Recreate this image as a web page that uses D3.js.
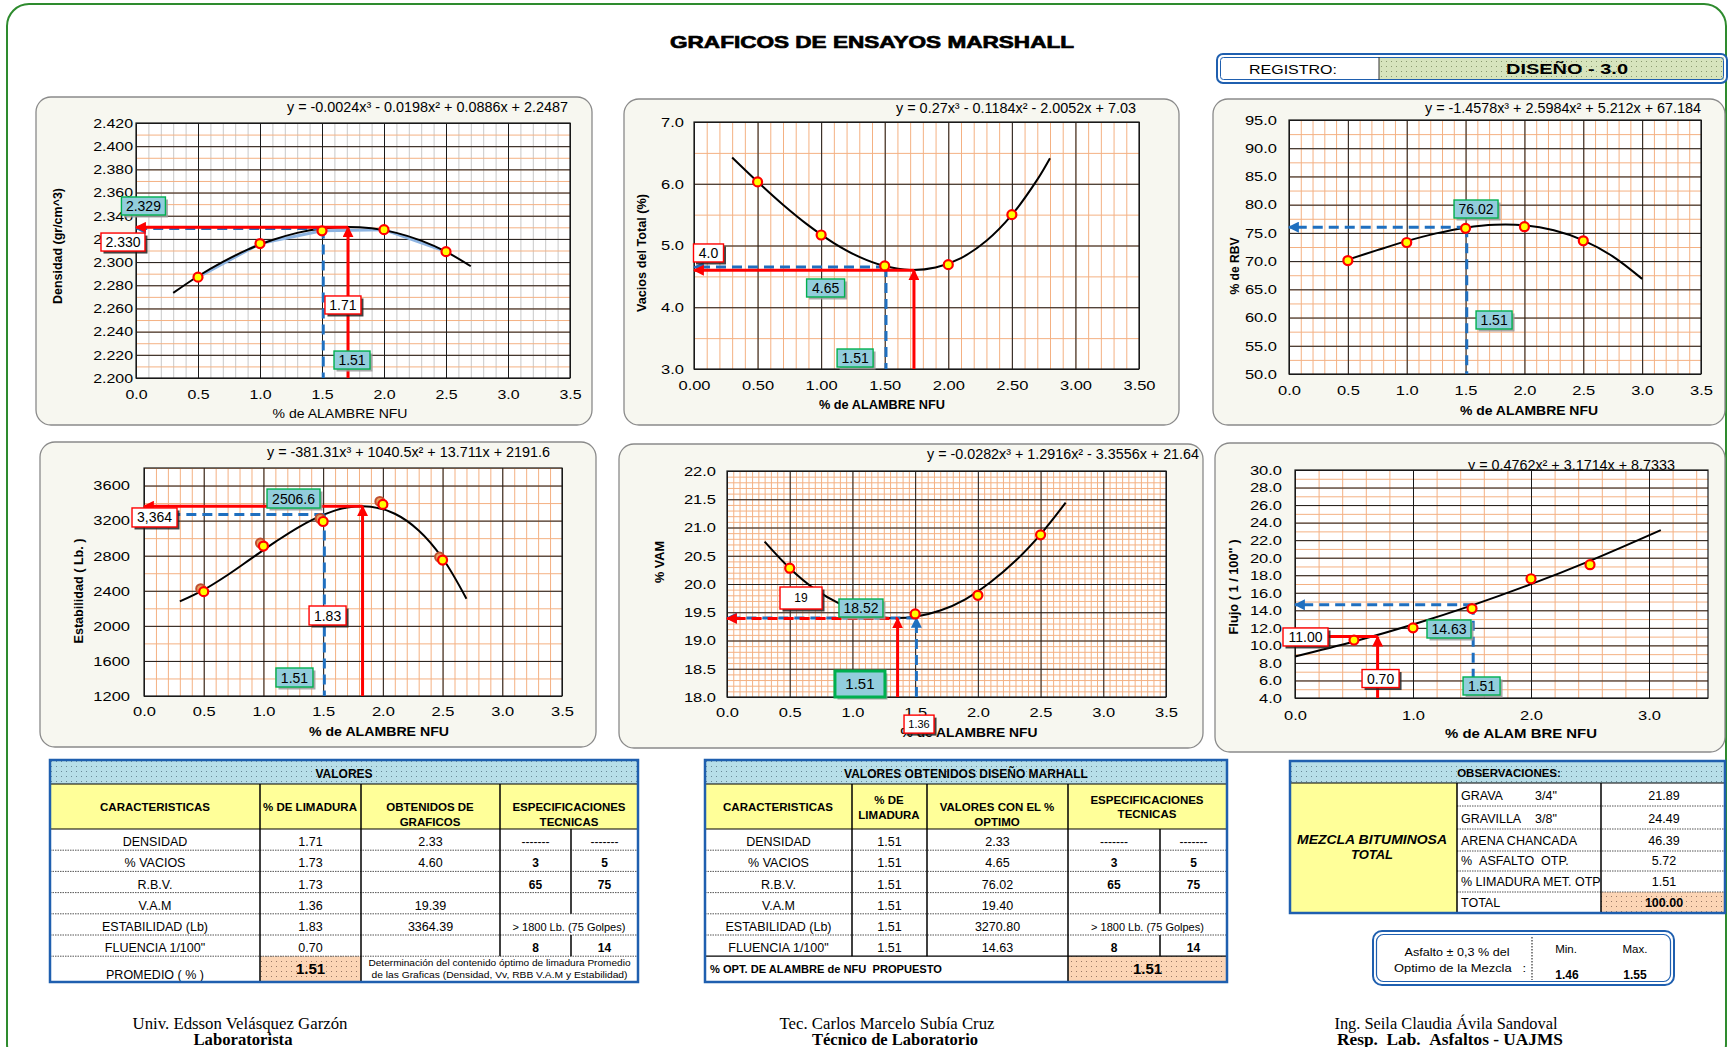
<!DOCTYPE html>
<html><head><meta charset="utf-8">
<script src="https://cdn.jsdelivr.net/npm/d3@7"></script>
<style>
body{margin:0;background:#fff}
svg{display:block}
</style>
</head><body>
<svg id="c" width="1732" height="1047" font-family='"Liberation Sans", Arial, sans-serif'></svg>
<script>
// ================= DATA =================
const xLevels = [0.5, 1.0, 1.5, 2.0, 2.5];
const xTicksHalf = [0, 0.5, 1.0, 1.5, 2.0, 2.5, 3.0, 3.5];
const xTicksFlujo = [0, 1, 2, 3];

// Densidad
const densidadPts = [2.287, 2.316, 2.327, 2.328, 2.309];
const densYTicks = [2.200,2.220,2.240,2.260,2.280,2.300,2.320,2.340,2.360,2.380,2.400,2.420];
const densCurveX = [0.3,0.5,0.7,0.9,1.1,1.3,1.5,1.7,1.9,2.1,2.3,2.5,2.7];
const densCurveY = [2.2734,2.2878,2.3002,2.3107,2.3190,2.3252,2.3290,2.3303,2.3291,2.3252,2.3185,2.3090,2.2964];
const densOptimo = [1.71, 2.330];
const densDiseno = [1.51, 2.329];
const densLabels = ["2.329", "2.330", "1.71", "1.51"];

// Vacios
const vaciosPts = [6.03, 5.17, 4.67, 4.69, 5.50];
const vaciosYTicks = [3.0, 4.0, 5.0, 6.0, 7.0];
const vaciosCurveX = [0.3,0.5,0.7,0.9,1.1,1.3,1.5,1.7,1.9,2.1,2.3,2.5,2.7,2.8];
const vaciosCurveY = [6.425,6.032,5.661,5.326,5.040,4.816,4.667,4.605,4.645,4.797,5.077,5.496,6.067,6.414];
const vaciosOptimo = [1.73, 4.60];
const vaciosDiseno = [1.51, 4.65];
const vaciosLabels = ["4.0", "4.65", "1.51"];

// RBV
const rbvPts = [70.1, 73.3, 75.8, 76.1, 73.6];
const rbvYTicks = [50,55,60,65,70,75,80,85,90,95];
const rbvCurveX = [0.5,0.75,1.0,1.25,1.5,1.75,2.0,2.25,2.5,2.75,3.0];
const rbvCurveY = [70.26,71.94,73.54,74.91,75.93,76.45,76.34,75.46,73.68,70.85,66.85];
const rbvDiseno = [1.51, 76.02];
const rbvLabels = ["76.02", "1.51"];

// Estabilidad
const estabPts = [2390, 2910, 3190, 3385, 2750];
const estabYTicks = [1200,1600,2000,2400,2800,3200,3600];
const estabCurveX = [0.3,0.5,0.7,0.9,1.1,1.3,1.5,1.7,1.9,2.1,2.3,2.5,2.7];
const estabCurveY = [2279,2411,2580,2769,2958,3130,3266,3349,3359,3278,3088,2771,2309];
const estabOptimo = [1.83, 3364];
const estabDiseno = [1.51, 3270];
const estabLabels = ["3,364", "2506.6", "1.83", "1.51"];

// VAM
const vamPts = [20.28, 19.58, 19.47, 19.80, 20.87];
const vamYTicks = [18.0,18.5,19.0,19.5,20.0,20.5,21.0,21.5,22.0];
const vamCurveX = [0.3,0.5,0.7,0.9,1.1,1.3,1.5,1.7,1.9,2.1,2.3,2.5,2.7];
const vamCurveY = [20.75,20.28,19.91,19.65,19.47,19.40,19.42,19.53,19.73,20.03,20.41,20.88,21.44];
const vamOptimo = [1.36, 19.39];
const vamDiseno = [1.51, 19.40];
const vamLabels = ["19", "18.52", "1.51", "1.36"];

// Flujo
const flujoPts = [10.6, 12.0, 14.2, 17.6, 19.2];
const flujoYTicks = [4,6,8,10,12,14,16,18,20,22,24,26,28,30];
const flujoCurveX = [0, 0.5, 1.0, 1.5, 2.0, 2.5, 3.1];
const flujoCurveY = [8.73, 10.44, 12.38, 14.56, 16.98, 19.64, 23.14];
const flujoOptimo = [0.70, 11.0];
const flujoDiseno = [1.51, 14.63];
const flujoLabels = ["11.00", "0.70", "14.63", "1.51"];

// Tables
const caracteristicas = ["DENSIDAD", "% VACIOS", "R.B.V.", "V.A.M", "ESTABILIDAD (Lb)", "FLUENCIA 1/100\""];
const t1Limadura = ["1.71", "1.73", "1.73", "1.36", "1.83", "0.70"];
const t1Graficos = ["2.33", "4.60", "", "19.39", "3364.39", ""];
const specMin = ["-------", "3", "65", "", "> 1800 Lb. (75 Golpes)", "8"];
const specMax = ["-------", "5", "75", "", "", "14"];
const t2Limadura = ["1.51", "1.51", "1.51", "1.51", "1.51", "1.51"];
const t2Optimo = ["2.33", "4.65", "76.02", "19.40", "3270.80", "14.63"];
const promedio = "1.51";
const optPropuesto = "1.51";
const obsLabels = ["GRAVA", "GRAVILLA", "ARENA CHANCADA", "%\u00A0\u00A0ASFALTO\u00A0\u00A0OTP.", "% LIMADURA MET. OTP", "TOTAL"];
const obsSizes = ["3/4\"", "3/8\"", "", "", "", ""];
const obsValues = ["21.89", "24.49", "46.39", "5.72", "1.51", "100.00"];
const asfaltoRango = ["1.46", "1.55"];
const firmasNombre = ["Univ. Edsson Velásquez Garzón", "Tec. Carlos Marcelo Subía Cruz", "Ing. Seila Claudia Ávila Sandoval"];
const firmasCargo = ["Laboratorista", "Técnico de Laboratorio", "Resp.\u00A0\u00A0Lab.\u00A0\u00A0Asfaltos - UAJMS"];

// ================= DRAWING =================
const svg = d3.select('#c');
svg.append('rect').attr('width',1732).attr('height',1047).attr('fill','#fff');
const defs = svg.append('defs');
function dotPattern(id, bg, dot) {
  const p = defs.append('pattern').attr('id', id).attr('width', 5).attr('height', 5).attr('patternUnits', 'userSpaceOnUse');
  p.append('rect').attr('width', 5).attr('height', 5).attr('fill', bg);
  p.append('rect').attr('x', 1).attr('y', 1).attr('width', 1).attr('height', 1).attr('fill', dot);
}
dotPattern('dBlue', '#B7DEE8', '#6a8a98');
dotPattern('dPeach', '#FCD5B5', '#9a7a66');
dotPattern('dGreen', '#D7E4BD', '#8a9a70');
function marker(id, color) {
  defs.append('marker').attr('id', id).attr('viewBox', '0 0 10 10').attr('refX', 9).attr('refY', 5)
    .attr('markerWidth', 11).attr('markerHeight', 11).attr('markerUnits', 'userSpaceOnUse').attr('orient', 'auto')
    .append('path').attr('d', 'M0,0 L10,5 L0,10 z').attr('fill', color);
}
marker('arRed', '#FF0000');
marker('arBlue', '#1F6FBF');

function txt(g, x, y, s, o = {}) {
  const t = g.append('text').attr('x', x).attr('y', y).text(s)
    .attr('font-size', o.fs || 12).attr('text-anchor', o.anchor || 'middle')
    .attr('font-weight', o.bold ? 'bold' : 'normal').attr('fill', o.fill || '#000');
  if (o.italic) t.attr('font-style', 'italic');
  if (o.family) t.attr('font-family', o.family);
  if (o.len) t.attr('textLength', o.len).attr('lengthAdjust', 'spacingAndGlyphs');
  if (o.rotate) t.attr('transform', `rotate(-90 ${x} ${y})`);
  return t;
}
function stretch(sel, k) {
  sel.each(function () {
    const L = this.getComputedTextLength();
    if (L > 0) { this.setAttribute('textLength', L * k); this.setAttribute('lengthAdjust', 'spacingAndGlyphs'); }
  });
}

// outer frame
svg.append('rect').attr('x', 7).attr('y', 4).attr('width', 1719).attr('height', 1062).attr('rx', 22)
  .attr('fill', 'none').attr('stroke', '#2E8B2E').attr('stroke-width', 2);

// title
txt(svg, 872, 48, "GRAFICOS DE ENSAYOS MARSHALL", { fs: 17, bold: true, len: 404 })
  .attr('stroke', '#000').attr('stroke-width', 0.7);

// registro box
svg.append('rect').attr('x', 1217).attr('y', 54).attr('width', 510).attr('height', 29).attr('rx', 6)
  .attr('fill', '#fff').attr('stroke', '#1F5FAF').attr('stroke-width', 2);
svg.append('rect').attr('x', 1379).attr('y', 57).attr('width', 345).attr('height', 23).attr('fill', 'url(#dGreen)');
svg.append('rect').attr('x', 1220.5).attr('y', 57.5).attr('width', 503).attr('height', 22).attr('rx', 3)
  .attr('fill', 'none').attr('stroke', '#1F5FAF').attr('stroke-width', 1);
svg.append('line').attr('x1', 1379).attr('x2', 1379).attr('y1', 57).attr('y2', 80).attr('stroke', '#333');
txt(svg, 1293, 74, "REGISTRO:", { fs: 13, len: 88 });
txt(svg, 1567, 74, "DISEÑO - 3.0", { fs: 15, bold: true, len: 122 });

function drawChart(c) {
  const g = svg.append('g');
  const [px0, px1, py0, py1] = c.plot;
  const W = px1 - px0, H = py1 - py0;
  g.append('rect').attr('x', c.card[0]).attr('y', c.card[1]).attr('width', c.card[2]).attr('height', c.card[3])
    .attr('rx', 15).attr('fill', '#F7F7F0').attr('stroke', '#8a8a8a').attr('stroke-width', 1.3);
  const x = d3.scaleLinear().domain(c.xDomain).range([px0, px1]);
  const y = d3.scaleLinear().domain(c.yDomain).range([py1, py0]);
  txt(g, c.eq[0], c.eq[1], c.eqText, { fs: 14, anchor: 'end', len: c.eq[2] });
  g.append('rect').attr('x', px0).attr('y', py0).attr('width', W).attr('height', H).attr('fill', '#fff');

  const xMinor = d3.range(c.xDomain[0], c.xDomain[1] + 1e-9, c.xMinor);
  const yMinor = d3.range(c.yDomain[0], c.yDomain[1] + 1e-9, c.yMinor);
  const gridStyle = (col, w) => s => { s.select('.domain').remove(); s.selectAll('line').attr('stroke', col).attr('stroke-width', w); };
  g.append('g').attr('transform', `translate(0,${py1})`)
    .call(d3.axisBottom(x).tickValues(xMinor).tickSize(-H).tickFormat(''))
    .call(gridStyle(c.xMinorColor || '#F4B183', 1));
  g.append('g').attr('transform', `translate(${px0},0)`)
    .call(d3.axisLeft(y).tickValues(yMinor).tickSize(-W).tickFormat(''))
    .call(gridStyle('#F4B183', 1));
  g.append('g').attr('transform', `translate(0,${py1})`)
    .call(d3.axisBottom(x).tickValues(c.xTicks).tickSize(-H).tickFormat(''))
    .call(gridStyle('#1a1a1a', 1));
  g.append('g').attr('transform', `translate(${px0},0)`)
    .call(d3.axisLeft(y).tickValues(c.yTicks).tickSize(-W).tickFormat(''))
    .call(gridStyle('#1a1a1a', 1));
  g.append('rect').attr('x', px0).attr('y', py0).attr('width', W).attr('height', H)
    .attr('fill', 'none').attr('stroke', '#1a1a1a').attr('stroke-width', 1.2);

  // tick labels
  const fs = c.tickFs;
  const xa = g.append('g').attr('transform', `translate(0,${py1})`)
    .call(d3.axisBottom(x).tickValues(c.xTicks).tickFormat(d3.format(c.xFmt)).tickSize(0).tickPadding(c.xLabelBase - py1 - 0.71 * fs));
  xa.select('.domain').remove();
  xa.attr('font-family', null).attr('font-size', fs);
  xa.selectAll('text').attr('fill', '#000');
  stretch(xa.selectAll('text'), c.tickK);
  const ya = g.append('g').attr('transform', `translate(${px0},0)`)
    .call(d3.axisLeft(y).tickValues(c.yTicks).tickFormat(d3.format(c.yFmt)).tickSize(0).tickPadding(px0 - c.yLabelRight));
  ya.select('.domain').remove();
  ya.attr('font-family', null).attr('font-size', fs);
  ya.selectAll('text').attr('fill', '#000');
  stretch(ya.selectAll('text'), c.tickK);

  // titles
  txt(g, c.yTitle.x, c.yTitle.y, c.yTitle.text, { fs: 13, bold: true, len: c.yTitle.len, rotate: true }).attr('dy', '0.35em');
  txt(g, c.xTitle.x, c.xTitle.y, c.xTitle.text, { fs: 13.5, bold: c.xTitle.bold !== false, len: c.xTitle.len });

  const pts = d3.zip(c.ptsX, c.pts);
  if (c.seriesLine) {
    g.append('path').attr('d', d3.line().x(d => x(d[0])).y(d => y(d[1]))(pts))
      .attr('fill', 'none').attr('stroke', '#8DB4E2').attr('stroke-width', 3);
  }
  // trend curve
  g.append('path').attr('d', d3.line().x(d => x(d[0])).y(d => y(d[1])).curve(d3.curveCatmullRom)(d3.zip(c.curveX, c.curveY)))
    .attr('fill', 'none').attr('stroke', '#000').attr('stroke-width', 2);

  // reference lines
  const xmin = c.xDomain[0], ymin = c.yDomain[0];
  function seg(a, b, color, dashed, arrow, offset) {
    const l = g.append('line').attr('x1', x(a[0])).attr('y1', y(a[1])).attr('x2', x(b[0])).attr('y2', y(b[1]))
      .attr('stroke', color === 'red' ? '#FF0000' : '#1F6FBF').attr('stroke-width', 3);
    if (dashed) l.attr('stroke-dasharray', '10,6').attr('stroke-dashoffset', offset || 0);
    if (arrow) l.attr('marker-end', color === 'red' ? 'url(#arRed)' : 'url(#arBlue)');
  }
  if (c.diseno) {
    const d = c.diseno;
    seg([d[0], d[1]], [xmin, d[1]], 'blue', true, true, 0);
    if (c.blueVUp) seg([d[0], ymin], [d[0], d[1]], 'blue', true, true, 0);
    else seg([d[0], d[1]], [d[0], ymin], 'blue', true, false, 0);
  }
  if (c.optimo) {
    const o = c.optimo;
    seg([o[0], o[1]], [xmin, o[1]], 'red', c.redDashed, true, 8);
    seg([o[0], ymin], [o[0], o[1]], 'red', false, true, 0);
  }
  // points
  const pg = g.append('g');
  if (c.ptShadow) {
    pg.selectAll('circle.sh').data(pts).join('circle').attr('class', 'sh')
      .attr('cx', d => x(d[0]) - 3).attr('cy', d => y(d[1]) - 3).attr('r', 4.5)
      .attr('fill', '#E8A060').attr('stroke', '#C05030').attr('stroke-width', 2);
  }
  pg.selectAll('circle.p').data(pts).join('circle').attr('class', 'p')
    .attr('cx', d => x(d[0])).attr('cy', d => y(d[1])).attr('r', 4.5)
    .attr('fill', '#FFFF00').attr('stroke', '#FF0000').attr('stroke-width', 2.2);

  // labels
  c.labels.forEach((L, i) => {
    const cx = x(L.x), cy = y(L.y), w = L.w, h = L.h || 18;
    const red = L.k === 'red';
    g.append('rect').attr('x', cx - w / 2 + 2.5).attr('y', cy - h / 2 + 2.5).attr('width', w).attr('height', h)
      .attr('fill', red ? '#222' : '#9a9a9a').attr('opacity', 0.85);
    g.append('rect').attr('x', cx - w / 2).attr('y', cy - h / 2).attr('width', w).attr('height', h)
      .attr('fill', red ? '#fff' : '#92CDDC').attr('stroke', red ? '#FF0000' : '#00B050')
      .attr('stroke-width', L.k === 'tealBold' ? 3 : 1.4);
    txt(g, cx, cy, c.labelTexts[i], { fs: L.fs || 14 }).attr('dy', '0.36em');
  });
}

const common = { xDomain: [0, 3.5], xTicks: xTicksHalf, xFmt: '.1f', tickFs: 13.5, tickK: 1.22 };

drawChart(Object.assign({}, common, {
  card: [36, 97, 556, 328], plot: [136, 570, 123, 378], yDomain: [2.2, 2.42], yTicks: densYTicks, yFmt: '.3f',
  xMinor: 0.1, yMinor: 0.01, xMinorColor: '#C8C8C8', xLabelBase: 399, yLabelRight: 133, tickFs: 13.5, tickK: 1.18,
  eq: [568, 112, 281], eqText: "y = -0.0024x³ - 0.0198x² + 0.0886x  + 2.2487",
  yTitle: { x: 57, y: 246, len: 116, text: "Densidad  (gr/cm^3)" },
  xTitle: { x: 340, y: 418, len: 135, text: "% de ALAMBRE NFU", bold: false },
  ptsX: xLevels, pts: densidadPts, curveX: densCurveX, curveY: densCurveY, seriesLine: true,
  optimo: densOptimo, diseno: densDiseno, labelTexts: densLabels,
  labels: [{ x: 0.06, y: 2.3484, w: 44, k: 'teal' }, { x: -0.105, y: 2.3173, w: 44, k: 'red' },
           { x: 1.669, y: 2.263, w: 36, k: 'red' }, { x: 1.742, y: 2.2155, w: 36, k: 'teal' }]
}));

drawChart(Object.assign({}, common, {
  card: [624, 99, 555, 326], plot: [694, 1139, 122, 369], yDomain: [3, 7], yTicks: vaciosYTicks, yFmt: '.1f', xFmt: '.2f',
  xMinor: 0.1, yMinor: 0.5, xLabelBase: 390, yLabelRight: 684,
  eq: [1136, 113, 240], eqText: "y = 0.27x³ - 0.1184x² - 2.0052x  + 7.03",
  yTitle: { x: 641, y: 253, len: 118, text: "Vacios del Total (%)" },
  xTitle: { x: 882, y: 409, len: 126, text: "% de ALAMBRE  NFU" },
  ptsX: xLevels, pts: vaciosPts, curveX: vaciosCurveX, curveY: vaciosCurveY,
  optimo: vaciosOptimo, diseno: vaciosDiseno, labelTexts: vaciosLabels,
  labels: [{ x: 0.114, y: 4.879, w: 30, k: 'red' }, { x: 1.035, y: 4.312, w: 38, k: 'teal' },
           { x: 1.267, y: 3.178, w: 36, k: 'teal' }]
}));

drawChart(Object.assign({}, common, {
  card: [1213, 99, 512, 326], plot: [1289, 1701, 120, 374], yDomain: [50, 95], yTicks: rbvYTicks, yFmt: '.1f',
  xMinor: 0.1, yMinor: 2.5, xLabelBase: 395, yLabelRight: 1277,
  eq: [1701, 113, 276], eqText: "y = -1.4578x³ + 2.5984x² + 5.212x  + 67.184",
  yTitle: { x: 1234, y: 266, len: 57, text: "% de RBV" },
  xTitle: { x: 1529, y: 415, len: 138, text: "% de ALAMBRE  NFU" },
  ptsX: xLevels, pts: rbvPts, curveX: rbvCurveX, curveY: rbvCurveY,
  diseno: rbvDiseno, labelTexts: rbvLabels,
  labels: [{ x: 1.589, y: 79.23, w: 44, k: 'teal' }, { x: 1.742, y: 59.57, w: 36, k: 'teal' }]
}));

drawChart(Object.assign({}, common, {
  card: [40, 442, 556, 305], plot: [144, 562, 468, 696], yDomain: [1200, 3800], yTicks: estabYTicks, yFmt: 'd',
  xMinor: 0.1, yMinor: 200, xLabelBase: 716, yLabelRight: 130,
  eq: [550, 457, 283], eqText: "y = -381.31x³ + 1040.5x² + 13.711x  + 2191.6",
  yTitle: { x: 78, y: 591, len: 105, text: "Estabilidad ( Lb. )" },
  xTitle: { x: 379, y: 736, len: 140, text: "% de ALAMBRE  NFU" },
  ptsX: xLevels, pts: estabPts, curveX: estabCurveX, curveY: estabCurveY, ptShadow: true,
  optimo: estabOptimo, diseno: estabDiseno, labelTexts: estabLabels,
  labels: [{ x: 0.088, y: 3236, w: 45, h: 19, k: 'red' }, { x: 1.252, y: 3452, w: 53, h: 19, k: 'teal' },
           { x: 1.537, y: 2118, w: 37, h: 19, k: 'red' }, { x: 1.260, y: 1411, w: 37, h: 19, k: 'teal' }]
}));

drawChart(Object.assign({}, common, {
  card: [619, 444, 584, 304], plot: [727, 1166, 471, 697], yDomain: [18, 22], yTicks: vamYTicks, yFmt: '.1f',
  xMinor: 0.05, yMinor: 0.1, xLabelBase: 717, yLabelRight: 716,
  eq: [1199, 459, 272], eqText: "y = -0.0282x³ + 1.2916x² - 3.3556x + 21.64",
  yTitle: { x: 659, y: 562, len: 42, text: "% VAM" },
  xTitle: { x: 969, y: 737, len: 137, text: "% de ALAMBRE  NFU" },
  ptsX: xLevels, pts: vamPts, curveX: vamCurveX, curveY: vamCurveY,
  optimo: vamOptimo, diseno: vamDiseno, redDashed: true, blueVUp: true, labelTexts: vamLabels,
  labels: [{ x: 0.590, y: 19.752, w: 42, h: 22, k: 'red', fs: 12 }, { x: 1.068, y: 19.575, w: 44, k: 'teal' },
           { x: 1.060, y: 18.23, w: 50, h: 26, k: 'tealBold', fs: 15 }, { x: 1.531, y: 17.52, w: 30, h: 18, k: 'red', fs: 11 }]
}));

drawChart(Object.assign({}, common, {
  card: [1215, 443, 510, 309], plot: [1295, 1708, 470, 698], xTicks: xTicksFlujo, yDomain: [4, 30], yTicks: flujoYTicks, yFmt: '.1f',
  xMinor: 0.2, yMinor: 1, xLabelBase: 720, yLabelRight: 1282,
  eq: [1675, 470, 207], eqText: "y = 0.4762x²  + 3.1714x  + 8.7333",
  yTitle: { x: 1233, y: 587, len: 95, text: "Flujo ( 1 / 100\" )" },
  xTitle: { x: 1521, y: 738, len: 152, text: "% de ALAM BRE  NFU" },
  ptsX: xLevels, pts: flujoPts, curveX: flujoCurveX, curveY: flujoCurveY,
  optimo: flujoOptimo, diseno: flujoDiseno, labelTexts: flujoLabels,
  labels: [{ x: 0.089, y: 10.96, w: 45, k: 'red' }, { x: 0.725, y: 6.22, w: 37, k: 'red' },
           { x: 1.305, y: 11.87, w: 44, k: 'teal' }, { x: 1.581, y: 5.37, w: 37, k: 'teal' }]
}));

// ================= TABLES =================
const BLUE = '#1F5FAF';
function hl(g, x1, x2, y, dotted) {
  const l = g.append('line').attr('x1', x1).attr('x2', x2).attr('y1', y).attr('y2', y)
    .attr('stroke', dotted ? '#555' : '#000').attr('stroke-width', dotted ? 1 : 1.2);
  if (dotted) l.attr('stroke-dasharray', '1.5,1');
}
function vl(g, x, y1, y2) {
  g.append('line').attr('x1', x).attr('x2', x).attr('y1', y1).attr('y2', y2).attr('stroke', '#000').attr('stroke-width', 1.5);
}
const tTop = 760, tH1 = 784, tH2 = 829, tRH = 21.2, tBot = 982;
const rowY = i => tH2 + i * tRH;

function valoresTable(cols, title, hdrs, col1, col2, isT1) {
  const g = svg.append('g');
  const L = cols[0], R = cols[5];
  g.append('rect').attr('x', L).attr('y', tTop).attr('width', R - L).attr('height', tH1 - tTop).attr('fill', 'url(#dBlue)');
  g.append('rect').attr('x', L).attr('y', tH1).attr('width', R - L).attr('height', tH2 - tH1).attr('fill', '#FFFF99');
  const lastTop = rowY(6);
  if (isT1) g.append('rect').attr('x', cols[1]).attr('y', lastTop).attr('width', cols[2] - cols[1]).attr('height', tBot - lastTop).attr('fill', 'url(#dPeach)');
  else g.append('rect').attr('x', cols[3]).attr('y', lastTop).attr('width', R - cols[3]).attr('height', tBot - lastTop).attr('fill', 'url(#dPeach)');
  txt(g, (L + R) / 2, 778, title, { fs: 12, bold: true });
  hdrs.forEach(h => h.lines.forEach((s, j) => txt(g, h.x, h.y[j], s, { fs: 11.5, bold: true })));
  hl(g, L, R, tH1, false);
  hl(g, L, R, tH2, false);
  for (let i = 1; i <= 5; i++) hl(g, L, R, rowY(i), true);
  hl(g, L, R, lastTop, isT1);
  vl(g, cols[1], tH1, isT1 ? tBot : lastTop);
  vl(g, cols[2], tH1, isT1 ? tBot : lastTop);
  vl(g, cols[3], tH1, isT1 ? lastTop : tBot);
  for (let i = 0; i < 6; i++) { if (i !== 4) vl(g, cols[4], rowY(i), rowY(i + 1)); }
  const cx = k => (cols[k] + cols[k + 1]) / 2;
  for (let i = 0; i < 6; i++) {
    const by = rowY(i + 1) - 4;
    txt(g, cx(0), by, caracteristicas[i], { fs: 12.5 });
    txt(g, cx(1), by, col1[i], { fs: 12.5 });
    txt(g, cx(2), by, col2[i], { fs: 12.5 });
    if (i === 4) txt(g, (cols[3] + cols[5]) / 2, by, specMin[i], { fs: 11 });
    else {
      txt(g, cx(3), by, specMin[i], { fs: 12, bold: specMin[i] !== '-------' });
      txt(g, cx(4), by, specMax[i], { fs: 12, bold: specMax[i] !== '-------' });
    }
  }
  if (isT1) {
    txt(g, cx(0), 979, "PROMEDIO ( % )", { fs: 12.5 });
    txt(g, cx(1), 974, promedio, { fs: 15, bold: true });
    txt(g, (cols[2] + cols[5]) / 2, 966, "Determinación del contenido óptimo de limadura Promedio", { fs: 9.5, len: 262 });
    txt(g, (cols[2] + cols[5]) / 2, 978, "de las Graficas (Densidad, Vv, RBB V.A.M y Estabilidad)", { fs: 9.5, len: 256 });
  } else {
    txt(g, L + 5, 973, "% OPT. DE ALAMBRE de NFU\u00A0\u00A0PROPUESTO", { fs: 10.5, bold: true, anchor: 'start', len: 232 });
    txt(g, (cols[3] + cols[5]) / 2, 974, optPropuesto, { fs: 15, bold: true });
  }
  g.append('rect').attr('x', L).attr('y', tTop).attr('width', R - L).attr('height', tBot - tTop)
    .attr('fill', 'none').attr('stroke', BLUE).attr('stroke-width', 2.5);
}

const t1Cols = [50, 260, 361, 500, 571, 638];
valoresTable(t1Cols, "VALORES", [
  { x: 155, y: [811], lines: ["CARACTERISTICAS"] },
  { x: 310, y: [811], lines: ["% DE LIMADURA"] },
  { x: 430, y: [811, 826], lines: ["OBTENIDOS DE", "GRAFICOS"] },
  { x: 569, y: [811, 826], lines: ["ESPECIFICACIONES", "TECNICAS"] }
], t1Limadura, t1Graficos, true);

const t2Cols = [705, 852, 927, 1068, 1160, 1227];
valoresTable(t2Cols, "VALORES OBTENIDOS DISEÑO MARHALL", [
  { x: 778, y: [811], lines: ["CARACTERISTICAS"] },
  { x: 889, y: [804, 819], lines: ["% DE", "LIMADURA"] },
  { x: 997, y: [811, 826], lines: ["VALORES CON EL %", "OPTIMO"] },
  { x: 1147, y: [804, 818], lines: ["ESPECIFICACIONES", "TECNICAS"] }
], t2Limadura, t2Optimo, false);

// Observaciones table
(function () {
  const g = svg.append('g');
  const cols = [1290, 1457, 1601, 1725];
  const rows = [783, 806, 829, 851, 871, 892, 913];
  g.append('rect').attr('x', cols[0]).attr('y', 761).attr('width', cols[3] - cols[0]).attr('height', 22).attr('fill', 'url(#dBlue)');
  g.append('rect').attr('x', cols[0]).attr('y', 783).attr('width', cols[1] - cols[0]).attr('height', 130).attr('fill', '#FFFF99');
  g.append('rect').attr('x', cols[2]).attr('y', rows[5]).attr('width', cols[3] - cols[2]).attr('height', rows[6] - rows[5]).attr('fill', 'url(#dPeach)');
  txt(g, 1509, 777, "OBSERVACIONES:", { fs: 11.5, bold: true });
  hl(g, cols[0], cols[3], 783, false);
  for (let i = 1; i < 6; i++) hl(g, cols[1], cols[3], rows[i], true);
  vl(g, cols[1], 783, 913);
  vl(g, cols[2], 783, 913);
  txt(g, 1372, 844, "MEZCLA BITUMINOSA", { fs: 13, bold: true, italic: true, len: 150 });
  txt(g, 1372, 859, "TOTAL", { fs: 13, bold: true, italic: true });
  for (let i = 0; i < 6; i++) {
    const by = rows[i + 1] - 6;
    txt(g, 1461, by, obsLabels[i], { fs: 12.5, anchor: 'start' });
    if (obsSizes[i]) txt(g, 1535, by, obsSizes[i], { fs: 12.5, anchor: 'start' });
    txt(g, 1664, by, obsValues[i], { fs: 12.5, bold: i === 5 });
  }
  g.append('rect').attr('x', cols[0]).attr('y', 761).attr('width', cols[3] - cols[0]).attr('height', 152)
    .attr('fill', 'none').attr('stroke', BLUE).attr('stroke-width', 2.5);

  // asfalto box
  const b = svg.append('g');
  b.append('rect').attr('x', 1373).attr('y', 931).attr('width', 301).attr('height', 54).attr('rx', 9)
    .attr('fill', '#fff').attr('stroke', BLUE).attr('stroke-width', 2);
  b.append('rect').attr('x', 1376.5).attr('y', 934.5).attr('width', 294).attr('height', 47).attr('rx', 7)
    .attr('fill', 'none').attr('stroke', BLUE).attr('stroke-width', 1.2);
  b.append('line').attr('x1', 1532).attr('x2', 1532).attr('y1', 937).attr('y2', 980)
    .attr('stroke', '#333').attr('stroke-width', 1.2).attr('stroke-dasharray', '1.5,1.5');
  txt(b, 1457, 956, "Asfalto ± 0,3 % del", { fs: 11, len: 105 });
  txt(b, 1460, 972, "Optimo de la Mezcla\u00A0\u00A0\u00A0:", { fs: 11, len: 132 });
  txt(b, 1566, 953, "Min.", { fs: 11.5 });
  txt(b, 1635, 953, "Max.", { fs: 11.5 });
  txt(b, 1567, 979, asfaltoRango[0], { fs: 12, bold: true });
  txt(b, 1635, 979, asfaltoRango[1], { fs: 12, bold: true });
})();

// footer signatures (condensed serif)
const serif = '"Liberation Serif", "Times New Roman", serif';
const fx1 = [240, 887, 1446], fw1 = [215, 215, 223];
const fx2 = [243, 895, 1450], fw2 = [99, 166, 226];
firmasNombre.forEach((s, i) => txt(svg, fx1[i], 1029, s, { fs: 16, family: serif, len: fw1[i] }));
firmasCargo.forEach((s, i) => txt(svg, fx2[i], 1045, s, { fs: 16, bold: true, family: serif, len: fw2[i] }));
</script>
</body></html>
